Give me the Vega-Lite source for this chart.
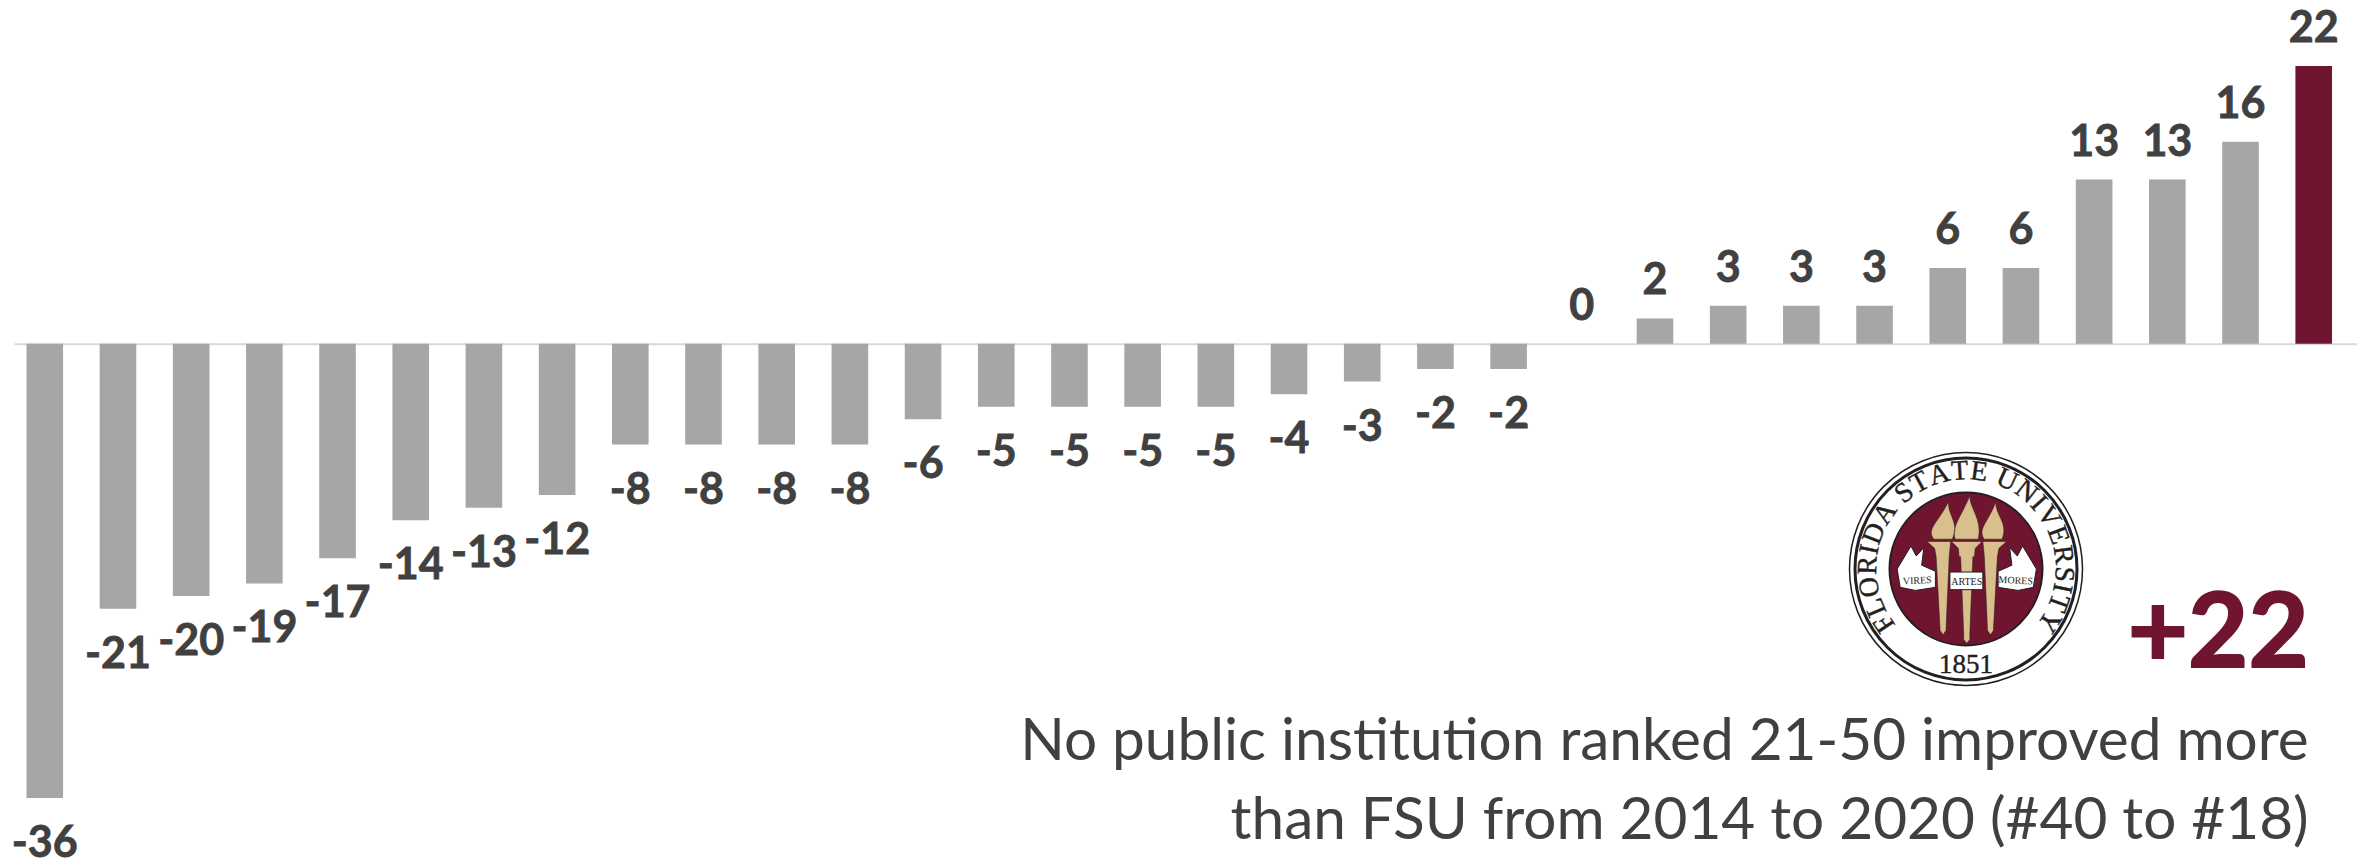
{"$schema":"https://vega.github.io/schema/vega-lite/v6.json","width":2357,"height":865,"autosize":{"type":"none"},"padding":0,"background":"white","config":{"view":{"stroke":null}},
"datasets":{"bars":[{"rank":1,"value":-36,"label":"-36","group":"other"},{"rank":2,"value":-21,"label":"-21","group":"other"},{"rank":3,"value":-20,"label":"-20","group":"other"},{"rank":4,"value":-19,"label":"-19","group":"other"},{"rank":5,"value":-17,"label":"-17","group":"other"},{"rank":6,"value":-14,"label":"-14","group":"other"},{"rank":7,"value":-13,"label":"-13","group":"other"},{"rank":8,"value":-12,"label":"-12","group":"other"},{"rank":9,"value":-8,"label":"-8","group":"other"},{"rank":10,"value":-8,"label":"-8","group":"other"},{"rank":11,"value":-8,"label":"-8","group":"other"},{"rank":12,"value":-8,"label":"-8","group":"other"},{"rank":13,"value":-6,"label":"-6","group":"other"},{"rank":14,"value":-5,"label":"-5","group":"other"},{"rank":15,"value":-5,"label":"-5","group":"other"},{"rank":16,"value":-5,"label":"-5","group":"other"},{"rank":17,"value":-5,"label":"-5","group":"other"},{"rank":18,"value":-4,"label":"-4","group":"other"},{"rank":19,"value":-3,"label":"-3","group":"other"},{"rank":20,"value":-2,"label":"-2","group":"other"},{"rank":21,"value":-2,"label":"-2","group":"other"},{"rank":22,"value":0,"label":"0","group":"other"},{"rank":23,"value":2,"label":"2","group":"other"},{"rank":24,"value":3,"label":"3","group":"other"},{"rank":25,"value":3,"label":"3","group":"other"},{"rank":26,"value":3,"label":"3","group":"other"},{"rank":27,"value":6,"label":"6","group":"other"},{"rank":28,"value":6,"label":"6","group":"other"},{"rank":29,"value":13,"label":"13","group":"other"},{"rank":30,"value":13,"label":"13","group":"other"},{"rank":31,"value":16,"label":"16","group":"other"},{"rank":32,"value":22,"label":"22","group":"FSU"}],
"notes":[{"rank":32,"pos":-31.6,"note":"No public institution ranked 21-50 improved more"},{"rank":32,"pos":-37.8,"note":"than FSU from 2014 to 2020 (#40 to #18)"}],
"big":[{"rank":32,"pos":-23.2,"note":"+22"}],
"centre":[{"sx":0,"sy":0}],
"ring":[{"ch":"F","ang":-123.8,"sx":-81.2,"sy":54.3},{"ch":"L","ang":-113,"sx":-89.9,"sy":38.2},{"ch":"O","ang":-100.7,"sx":-96,"sy":18.1},{"ch":"R","ang":-87.9,"sx":-97.6,"sy":-3.6},{"ch":"I","ang":-78.6,"sx":-95.8,"sy":-19.3},{"ch":"D","ang":-68.9,"sx":-91.2,"sy":-35.2},{"ch":"A","ang":-55.5,"sx":-80.5,"sy":-55.3},{"ch":"S","ang":-39,"sx":-61.5,"sy":-75.9},{"ch":"T","ang":-28.3,"sx":-46.3,"sy":-86},{"ch":"A","ang":-15.9,"sx":-26.8,"sy":-94},{"ch":"T","ang":-3.6,"sx":-6.1,"sy":-97.5},{"ch":"E","ang":7.7,"sx":13.1,"sy":-96.8},{"ch":"U","ang":24.7,"sx":40.8,"sy":-88.8},{"ch":"N","ang":38,"sx":60.2,"sy":-77},{"ch":"I","ang":47.8,"sx":72.4,"sy":-65.6},{"ch":"V","ang":57.6,"sx":82.5,"sy":-52.3},{"ch":"E","ang":69.9,"sx":91.8,"sy":-33.6},{"ch":"R","ang":81.7,"sx":96.7,"sy":-14.1},{"ch":"S","ang":93,"sx":97.6,"sy":5.1},{"ch":"I","ang":101.2,"sx":95.8,"sy":19},{"ch":"T","ang":110,"sx":91.8,"sy":33.4},{"ch":"Y","ang":122.3,"sx":82.6,"sy":52.2}],
"motto":[{"sx":-48.7,"sy":11.7,"word":"VIRES","tilt":-3},{"sx":0.7,"sy":12.8,"word":"ARTES","tilt":0},{"sx":49.7,"sy":11.7,"word":"MORES","tilt":3}],
"year":[{"sx":0,"sy":96,"word":"1851"}]},
"resolve":{"scale":{"x":"independent","y":"independent"}},
"layer":[
{"encoding":{"x":{"field":"rank","type":"ordinal","sort":null,"title":null,"scale":{"range":[14,2357],"paddingInner":0.5,"paddingOuter":0.256,"align":0.333},"axis":{"orient":"bottom","offset":-521.3,"labels":false,"ticks":false,"title":null,"grid":false,"domain":true,"domainColor":"#d9d9d9","domainWidth":2}},
"y":{"field":"value","type":"quantitative","title":null,"axis":null,"scale":{"domain":[-41.31,27.23],"range":[865,0],"nice":false,"zero":false}}},
"layer":[
{"data":{"name":"bars"},"mark":{"type":"bar","width":36.6},"encoding":{"color":{"field":"group","type":"nominal","legend":null,"scale":{"domain":["other","FSU"],"range":["#a6a6a6","#6f152f"]}}}},
{"data":{"name":"bars"},"transform":[{"filter":"datum.value<0"}],"mark":{"type":"text","dy":46,"dx":0,"font":"Lato","fontWeight":"bold","fontSize":43,"fill":"#404040","stroke":"#404040","strokeWidth":0.8,"baseline":"middle","align":"center"},"encoding":{"text":{"field":"label"}}},
{"data":{"name":"bars"},"transform":[{"filter":"datum.value>=0"}],"mark":{"type":"text","dy":-37,"dx":0,"font":"Lato","fontWeight":"bold","fontSize":43,"fill":"#404040","stroke":"#404040","strokeWidth":0.8,"baseline":"middle","align":"center"},"encoding":{"text":{"field":"label"}}},
{"data":{"name":"big"},"mark":{"type":"text","dx":-5,"font":"Lato","fontWeight":"bold","fontSize":104,"fill":"#6f152f","stroke":"#6f152f","strokeWidth":2,"baseline":"middle","align":"right"},"encoding":{"y":{"field":"pos","type":"quantitative"},"text":{"field":"note"}}},
{"data":{"name":"notes"},"mark":{"type":"text","dx":-5,"font":"Lato","fontSize":58.5,"fill":"#404040","baseline":"middle","align":"right"},"encoding":{"y":{"field":"pos","type":"quantitative"},"text":{"field":"note"}}}
]},
{"encoding":{"x":{"field":"sx","type":"quantitative","axis":null,"scale":{"domain":[-100,100],"range":[1866,2066],"nice":false,"zero":false}},"y":{"field":"sy","type":"quantitative","axis":null,"scale":{"domain":[-100,100],"range":[469,669],"nice":false,"zero":false}}},
"layer":[
{"data":{"name":"centre"},"mark":{"type":"point","size":54289,"stroke":"#231f20","strokeWidth":1.5,"fill":"white","filled":false,"opacity":1}},
{"data":{"name":"centre"},"mark":{"type":"point","size":49284,"stroke":"#231f20","strokeWidth":3,"filled":false,"opacity":1}},
{"data":{"name":"centre"},"mark":{"type":"point","size":23409,"stroke":"#231f20","strokeWidth":2,"fill":"#6f152f","filled":true,"opacity":1}},
{"data":{"name":"centre"},"mark":{"type":"point","size":23409,"filled":true,"fill":"#d9bf8c","stroke":"#231f20","strokeWidth":0.5,"opacity":1,"shape":"M-0.19,-0.36 L0.21,-0.36 L0.12,-0.27 L0.11,-0.16 L0.09,-0.16 L0.05,0.84 L0.05,0.92 L0.01,0.97 L-0.03,0.92 L-0.03,0.84 L-0.07,-0.16 L-0.09,-0.16 L-0.1,-0.27 Z M-0.51,-0.36 L-0.2,-0.36 L-0.21,-0.27 L-0.22,-0.16 L-0.26,0.76 L-0.26,0.8 L-0.3,0.86 L-0.34,0.8 L-0.34,0.76 L-0.39,-0.16 L-0.41,-0.27 Z M0.22,-0.36 L0.53,-0.36 L0.43,-0.27 L0.41,-0.16 L0.36,0.76 L0.36,0.8 L0.32,0.86 L0.28,0.8 L0.28,0.76 L0.24,-0.16 L0.23,-0.27 Z M-0.14,-0.39 C-0.2,-0.55 -0.05,-0.7 0.05,-0.96 C0.04,-0.8 0.22,-0.65 0.16,-0.39 Z M-0.42,-0.39 C-0.53,-0.52 -0.35,-0.62 -0.23,-0.88 C-0.24,-0.7 -0.08,-0.6 -0.18,-0.39 Z M0.24,-0.39 C0.14,-0.52 0.3,-0.62 0.39,-0.88 C0.38,-0.7 0.56,-0.6 0.47,-0.39 Z"}},
{"data":{"name":"centre"},"mark":{"type":"point","size":23409,"filled":true,"fill":"white","stroke":"#231f20","strokeWidth":1,"opacity":1,"shape":"M-0.9,0 L-0.72,-0.3 L-0.65,-0.17 L-0.55,-0.28 L-0.58,-0.05 L-0.4,0.03 L-0.4,0.24 L-0.66,0.28 L-0.86,0.24 Z M0.92,0 L0.74,-0.3 L0.67,-0.17 L0.57,-0.28 L0.6,-0.05 L0.42,0.03 L0.42,0.24 L0.68,0.28 L0.88,0.24 Z M-0.21,0.04 L0.22,0.04 L0.22,0.27 L-0.21,0.27 Z"}},
{"data":{"name":"motto"},"mark":{"type":"text","font":"Liberation Serif","fontSize":10,"fill":"#231f20","baseline":"middle","align":"center"},"encoding":{"text":{"field":"word"},"angle":{"field":"tilt","type":"quantitative","scale":null}}},
{"data":{"name":"year"},"mark":{"type":"text","font":"Liberation Serif","fontSize":27,"fill":"#231f20","stroke":"#231f20","strokeWidth":0.4,"baseline":"middle","align":"center"},"encoding":{"text":{"field":"word"}}},
{"data":{"name":"ring"},"mark":{"type":"text","font":"Liberation Serif","fontSize":28,"fill":"#231f20","stroke":"#231f20","strokeWidth":0.4,"baseline":"middle","align":"center"},"encoding":{"angle":{"field":"ang","type":"quantitative","scale":null},"text":{"field":"ch"}}}
]}
]}
